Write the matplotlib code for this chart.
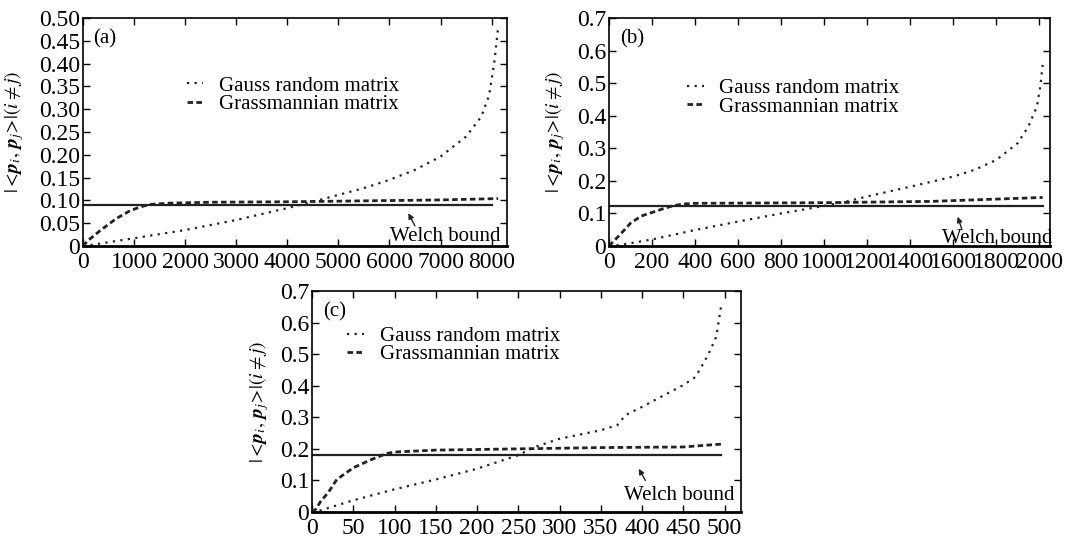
import matplotlib
matplotlib.use("Agg")
import matplotlib.pyplot as plt

plt.rcParams['font.family'] = ['Liberation Serif', 'DejaVu Serif']
plt.rcParams['mathtext.fontset'] = 'stix'

# ---------------- data ----------------
# panel (a)
a_gauss_x = [0, 200, 1000, 2000, 3000, 4000, 4500, 5000, 5500, 6000, 6500, 7000, 7500, 7800, 7950, 8050, 8100, 8128]
a_gauss_y = [0, 0.003, 0.017, 0.035, 0.057, 0.083, 0.097, 0.112, 0.127, 0.145, 0.167, 0.196, 0.24, 0.284, 0.33, 0.40, 0.45, 0.48]
a_grass_x = [0, 100, 350, 650, 900, 1100, 1300, 1700, 2500, 4000, 5500, 7000, 8128]
a_grass_y = [0, 0.012, 0.035, 0.06, 0.076, 0.085, 0.091, 0.094, 0.096, 0.097, 0.099, 0.101, 0.104]
a_welch = 0.089
a_xmax = 8000

# panel (b)
b_gauss_x = [0, 50, 200, 400, 600, 800, 1000, 1100, 1200, 1400, 1600, 1700, 1800, 1900, 1950, 1990, 2005, 2016]
b_gauss_y = [0, 0.003, 0.02, 0.049, 0.075, 0.1, 0.123, 0.136, 0.152, 0.182, 0.213, 0.234, 0.264, 0.316, 0.367, 0.43, 0.49, 0.556]
b_grass_x = [0, 50, 100, 150, 200, 250, 300, 350, 400, 1000, 1500, 2016]
b_grass_y = [0, 0.034, 0.07, 0.092, 0.103, 0.114, 0.124, 0.129, 0.131, 0.133, 0.137, 0.149]
b_welch = 0.124
b_xmax = 2016

# panel (c)
c_gauss_x = [0, 10, 50, 100, 150, 200, 250, 270, 300, 350, 370, 380, 400, 450, 465, 480, 490, 496]
c_gauss_y = [0, 0.005, 0.037, 0.072, 0.103, 0.137, 0.18, 0.206, 0.232, 0.259, 0.275, 0.307, 0.333, 0.402, 0.428, 0.497, 0.555, 0.655]
c_grass_x = [0, 5, 10, 20, 30, 50, 70, 90, 100, 150, 250, 350, 450, 496]
c_grass_y = [0, 0.01, 0.032, 0.063, 0.103, 0.14, 0.164, 0.185, 0.19, 0.196, 0.2, 0.204, 0.206, 0.215]
c_welch = 0.18
c_xmax = 496

labels = ['Gauss random matrix', 'Grassmannian matrix']
ylabel = r'$|<\!\mathbfit{p}_i,\,\mathbfit{p}_j\!>\!|(i\neq j)$'

fig = plt.figure(figsize=(10.69, 5.41), dpi=100)

FS = 15
TFS = 17

def panel(rect, gx, gy, sx, sy, welch, xmax, xlim, ylim, xticks, yticks, yticklabels,
          tag, leg_anchor, arrow_head, arrow_tail, text_xy, ylab_x):
    ax = fig.add_axes(rect)
    ax.plot(gx, gy, color='#222222', linestyle=(0, (1, 2.4)), linewidth=1.6, label=labels[0])
    ax.plot(sx, sy, color='#222222', linestyle=(0, (2.0, 1.2)), linewidth=2.0, label=labels[1])
    ax.plot([0, xmax], [welch, welch], color='#222222', linewidth=1.6)
    ax.set_xlim(*xlim)
    ax.set_ylim(*ylim)
    ax.set_xticks(xticks)
    ax.set_yticks(yticks)
    ax.set_yticklabels(yticklabels)
    ax.tick_params(direction='in', top=True, right=True, length=5, width=1, labelsize=TFS)
    ax.tick_params(axis='x', pad=4)
    ax.tick_params(axis='y', pad=2)
    for s in ax.spines.values():
        s.set_linewidth(1.2)
    ax.spines['bottom'].set_linewidth(2.0)
    ax.set_ylabel(ylabel, fontsize=14)
    ax.yaxis.set_label_coords(ylab_x, 0.5)
    ax.text(0.025, 0.95, tag, transform=ax.transAxes, fontsize=FS, va='top', ha='left')
    ax.legend(loc='upper left', bbox_to_anchor=leg_anchor, frameon=False, fontsize=FS,
              handlelength=0.8, handletextpad=0.75, labelspacing=-0.05, borderaxespad=0,
              borderpad=0)
    ax.annotate('', xy=arrow_head, xytext=arrow_tail,
                arrowprops=dict(arrowstyle='-|>', color='#222222', lw=1.0,
                                mutation_scale=8, shrinkA=0, shrinkB=0))
    ax.text(text_xy[0], text_xy[1], 'Welch bound', fontsize=FS, ha='center', va='baseline')
    return ax

panel([0.0776, 0.5453, 0.3966, 0.4214], a_gauss_x, a_gauss_y, a_grass_x, a_grass_y,
      a_welch, a_xmax, (0, 8300), (0, 0.5),
      [0, 1000, 2000, 3000, 4000, 5000, 6000, 7000, 8000],
      [0, 0.05, 0.10, 0.15, 0.20, 0.25, 0.30, 0.35, 0.40, 0.45, 0.50],
      ['0', '0.05', '0.10', '0.15', '0.20', '0.25', '0.30', '0.35', '0.40', '0.45', '0.50'],
      '(a)', (0.245, 0.745), (6370, 0.072), (6500, 0.044), (7090, 0.01), -0.135)

panel([0.5697, 0.5453, 0.4125, 0.4214], b_gauss_x, b_gauss_y, b_grass_x, b_grass_y,
      b_welch, b_xmax, (0, 2050), (0, 0.7),
      list(range(0, 2001, 200)),
      [0, 0.1, 0.2, 0.3, 0.4, 0.5, 0.6, 0.7],
      ['0', '0.1', '0.2', '0.3', '0.4', '0.5', '0.6', '0.7'],
      '(b)', (0.177, 0.735), (1621, 0.09), (1641, 0.05), (1807, 0.009), -0.095)

panel([0.2919, 0.0536, 0.4013, 0.4085], c_gauss_x, c_gauss_y, c_grass_x, c_grass_y,
      c_welch, c_xmax, (0, 520), (0, 0.7),
      list(range(0, 501, 50)),
      [0, 0.1, 0.2, 0.3, 0.4, 0.5, 0.6, 0.7],
      ['0', '0.1', '0.2', '0.3', '0.4', '0.5', '0.6', '0.7'],
      '(c)', (0.082, 0.84), (396, 0.137), (404, 0.1), (445, 0.037), -0.095)

fig.savefig('out.png', dpi=100)
